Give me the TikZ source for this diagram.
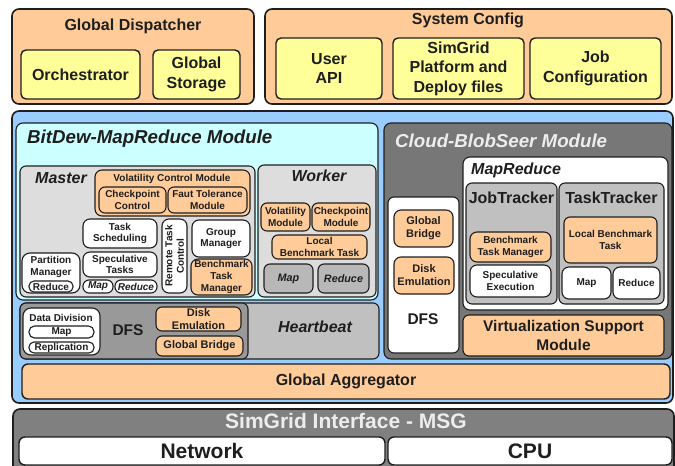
\documentclass[tikz,border=0pt]{standalone}
\usepackage{fontspec}
\setmainfont{Liberation Sans}
\definecolor{cOr}{HTML}{FFCC99}
\definecolor{cYe}{HTML}{FFFF99}
\definecolor{cBl}{HTML}{99CCFF}
\definecolor{cCy}{HTML}{CCFFFF}
\definecolor{cLg}{HTML}{DDDDDD}
\definecolor{cMg}{HTML}{C0C0C0}
\definecolor{cWg}{HTML}{B8B8B8}
\definecolor{cDg}{HTML}{999999}
\definecolor{cCb}{HTML}{777777}
\definecolor{cSg}{HTML}{808080}
\definecolor{cLn}{HTML}{1E1E1E}
\definecolor{cLt}{HTML}{EDEDED}
\newcommand\bx[7]{\node[#1, minimum width={(#4-#2)*1pt}, minimum height={(#5-#3)*1pt}] (#6) at ({(#2+#4)/2},{(#3+#5)/2}) {#7};}
\begin{document}
\begin{tikzpicture}[x=1pt,y=-1pt,
 b/.style={draw=cLn, line width=1.1pt, rounded corners=5pt, inner sep=0pt, align=center, text=cLn},
 bb/.style={b, line width=1.6pt, rounded corners=7pt},
 tx/.style={inner sep=0pt, align=center, text=cLn},
 f10/.style={font=\fontsize{10}{11.6}\selectfont\bfseries},
 f11/.style={font=\fontsize{11}{13}\selectfont\bfseries},
 f16/.style={font=\fontsize{16}{19.5}\selectfont\bfseries},
 f15/.style={font=\fontsize{15.5}{19}\selectfont\bfseries},
 f19/.style={font=\fontsize{18.7}{22}\selectfont\bfseries\itshape},
 f21/.style={font=\fontsize{21}{24}\selectfont\bfseries},
 it/.style={font=\fontsize{10}{11.6}\selectfont\bfseries\itshape},
 orb/.style={b, fill=cOr},
 yeb/.style={b, fill=cYe},
 whb/.style={b, fill=white},
]
\clip (0,0) rectangle (675,466);
\fill[white] (0,0) rectangle (675,466);
% ---------- Global Dispatcher ----------
\bx{bb, fill=cOr}{12}{9}{254}{104}{gd}{}
\node[tx, f16] (gdt) at (133,26) {Global Dispatcher};
\bx{yeb, f16, line width=1.4pt}{21}{50}{140}{99}{orch}{Orchestrator}
\bx{yeb, f16, line width=1.4pt}{153}{50}{240}{99}{gstor}{Global\\Storage}
% ---------- System Config ----------
\bx{bb, fill=cOr}{265}{9}{672}{104}{sc}{}
\node[tx, f16] (sct) at (468,20) {System Config};
\bx{yeb, f16, line width=1.4pt}{276}{38}{382}{99}{uapi}{User\\API}
\bx{yeb, f16, line width=1.4pt}{393}{38}{524}{99}{sgp}{SimGrid\\Platform and\\Deploy files}
\bx{yeb, f16, line width=1.4pt}{530}{38}{661}{99}{jobc}{Job\\Configuration}
% ---------- Blue container ----------
\bx{bb, fill=cBl}{12}{111}{673}{403}{blue}{}
% ---------- BitDew-MapReduce ----------
\bx{b, fill=cCy, rounded corners=7pt}{16}{123}{378}{300}{bd}{}
\node[tx, f19, anchor=west] (bdt) at (27,139) {BitDew-MapReduce Module};
% Master
\bx{b, fill=cLg, rounded corners=6pt}{20}{166}{255}{297}{master}{}
\node[tx, font=\fontsize{16}{19}\selectfont\bfseries\itshape] (mastert) at (61,178) {Master};
\bx{orb, rounded corners=7pt}{95}{170}{250}{216}{vcm}{}
\node[tx, f10] (vcmt) at (172,179) {Volatility Control Module};
\bx{orb, f10, rounded corners=6pt}{99}{187}{166}{213}{cpc}{Checkpoint\\Control}
\bx{orb, f10, rounded corners=6pt}{168}{187}{247}{213}{ftm}{Faut Tolerance\\Module}
\bx{whb, f10, rounded corners=7pt}{83}{219}{157}{248}{tsch}{Task\\Scheduling}
\bx{whb, f10, rounded corners=7pt}{83}{252}{157}{277}{spt}{Speculative\\Tasks}
\bx{whb, it, rounded corners=6pt}{83}{280}{113}{293}{mmap}{Map}
\bx{whb, it, rounded corners=6pt}{115}{280}{157}{293}{mred}{Reduce}
\bx{whb, rounded corners=7pt}{162}{219}{187}{293}{rtc}{}
\node[tx, f10, rotate=90] (rtct) at (174.5,256) {Remote Task\\Control};
\bx{whb, f10, rounded corners=7pt}{192}{220}{250}{257}{gm}{Group\\Manager}
\bx{orb, f10, rounded corners=7pt}{191}{259}{252}{295}{btm}{Benchmark\\Task\\Manager}
\bx{whb, rounded corners=8pt}{22}{253}{80}{293}{pm}{}
\node[tx, f10] (pmt) at (51,267) {Partition\\Manager};
\bx{whb, f10, rounded corners=5pt}{29}{281}{73}{292}{pmred}{Reduce}
% Worker
\bx{b, fill=cLg, rounded corners=6pt}{258}{165}{376}{297}{worker}{}
\node[tx, font=\fontsize{16}{19}\selectfont\bfseries\itshape] (workert) at (319,176) {Worker};
\bx{orb, f10, rounded corners=6pt}{261}{203}{310}{231}{wvm}{Volatility\\Module}
\bx{orb, f10, rounded corners=6pt}{312}{203}{370}{231}{wcm}{Checkpoint\\Module}
\bx{orb, f10, rounded corners=6pt}{272}{235}{367}{259}{wlbt}{Local\\Benchmark Task}
\bx{b, fill=cWg, rounded corners=6pt, font=\fontsize{10.8}{13}\selectfont\bfseries\itshape}{264}{264}{313}{293}{wmap}{Map}
\bx{b, fill=cWg, rounded corners=6pt, font=\fontsize{10.8}{13}\selectfont\bfseries\itshape}{318}{264}{369}{293}{wred}{Reduce}
% DFS / Heartbeat strip
\bx{b, fill=cMg, rounded corners=6pt}{20}{303}{379}{359}{hbbox}{}
\bx{b, fill=cDg, rounded corners=6pt}{20}{303}{248}{359}{dfsl}{}
\node[tx, font=\fontsize{16}{19}\selectfont\bfseries\itshape] (hbt) at (315,327) {Heartbeat};
\bx{whb, rounded corners=8pt}{23}{308}{100}{355}{dd}{}
\node[tx, f10] (ddt) at (61,318) {Data Division};
\bx{whb, f10, rounded corners=5.5pt}{29}{326}{94}{338}{ddmap}{Map}
\bx{whb, f10, rounded corners=5pt}{29}{342}{94}{353}{ddrep}{Replication}
\node[tx, f15] (dfslt) at (128,330) {DFS};
\bx{orb, f11, rounded corners=6pt}{156}{307}{241}{331}{lde}{Disk\\Emulation}
\bx{orb, f11, rounded corners=6pt}{156}{336}{243}{356}{lgb}{Global Bridge}
% ---------- Cloud-BlobSeer ----------
\bx{b, fill=cCb, rounded corners=7pt}{384}{123}{672}{359}{cb}{}
\node[tx, text=cLt, anchor=west, f19] (cbt) at (395,141) {Cloud-BlobSeer Module};
\bx{whb, rounded corners=7pt}{463}{157}{668}{310}{mr}{}
\node[tx, anchor=west, font=\fontsize{16}{19}\selectfont\bfseries\itshape] (mrt) at (471,170) {MapReduce};
\bx{b, fill=cMg, rounded corners=6pt}{466}{183}{557}{304}{jt}{}
\node[tx, f16] (jtt) at (511.5,198) {JobTracker};
\bx{orb, f10, rounded corners=7pt}{470}{232}{551}{262}{jbtm}{Benchmark\\Task Manager}
\bx{whb, f10, rounded corners=7pt}{470}{265}{551}{297}{jse}{Speculative\\Execution}
\bx{b, fill=cMg, rounded corners=6pt}{559}{183}{664}{304}{tt}{}
\node[tx, f16] (ttt) at (611.5,198) {TaskTracker};
\bx{orb, f10, rounded corners=6pt}{564}{217}{657}{263}{tlbt}{Local Benchmark\\Task}
\bx{whb, f10, rounded corners=7pt}{562}{267}{611}{299}{tmap}{Map}
\bx{whb, f10, rounded corners=7pt}{613}{267}{660}{299}{tred}{Reduce}
\bx{whb, rounded corners=6pt}{388}{197}{459}{353}{dfsr}{}
\bx{orb, f11, rounded corners=7pt}{394}{210}{453}{247}{rgb}{Global\\Bridge}
\bx{orb, f11, rounded corners=7pt}{394}{257}{454}{294}{rde}{Disk\\Emulation}
\node[tx, f15] (dfsrt) at (423,319) {DFS};
\bx{orb, f15, rounded corners=6pt}{463}{315}{664}{356}{vsm}{Virtualization Support\\Module}
% ---------- Global Aggregator ----------
\bx{orb, f16, line width=1.4pt, rounded corners=6pt}{22}{364}{670}{399}{ga}{Global Aggregator}
% ---------- SimGrid ----------
\bx{bb, fill=cSg}{13}{409}{674}{490}{sg}{}
\node[tx, f21, text=cLt] (sgt) at (346,421) {SimGrid Interface - MSG};
\bx{whb, f21, line width=1.4pt, rounded corners=6pt}{19}{437}{385}{465}{net}{Network}
\bx{whb, f21, line width=1.4pt, rounded corners=6pt}{388}{437}{672}{465}{cpu}{CPU}
\end{tikzpicture}
\end{document}
